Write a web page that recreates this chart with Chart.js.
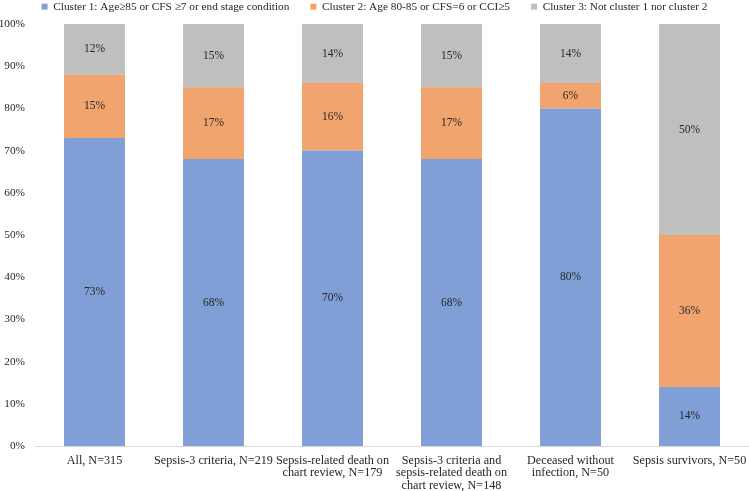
<!DOCTYPE html>
<html>
<head>
<meta charset="utf-8">
<script src="https://cdn.jsdelivr.net/npm/chart.js@4.4.0/dist/chart.umd.min.js"></script>
<style>
  html, body { margin: 0; padding: 0; background: #fff; }
  #wrap { width: 749px; height: 491px; }
</style>
</head>
<body>
<div id="wrap"><canvas id="chart"></canvas></div>
<script>
// categories and series (percent of group)
const categories = [
  'All, N=315',
  'Sepsis-3 criteria, N=219',
  ['Sepsis-related death on', 'chart review, N=179'],
  ['Sepsis-3 criteria and', 'sepsis-related death on', 'chart review, N=148'],
  ['Deceased without', 'infection, N=50'],
  'Sepsis survivors, N=50'
];
const seriesNames = [
  'Cluster 1: Age\u226585 or CFS \u22657 or end stage condition',
  'Cluster 2: Age 80-85 or CFS=6 or CCI\u22655',
  'Cluster 3: Not cluster 1 nor cluster 2'
];
const cluster1 = [73, 68, 70, 68, 80, 14];
const cluster2 = [15, 17, 16, 17, 6, 36];
const cluster3 = [12, 15, 14, 15, 14, 50];
const yTicks = [0, 10, 20, 30, 40, 50, 60, 70, 80, 90, 100];

const colors = ['#7f9fd6', '#f1a46e', '#bfbfbf'];
const FONT = '"Liberation Serif", "Times New Roman", serif';
const TEXT = '#262626';

// draw the % value in the middle of every segment
const segmentLabels = {
  id: 'segmentLabels',
  afterDatasetsDraw(chart) {
    const ctx = chart.ctx;
    ctx.save();
    ctx.font = '11.5px ' + FONT;
    ctx.fillStyle = TEXT;
    ctx.textAlign = 'center';
    ctx.textBaseline = 'middle';
    chart.data.datasets.forEach((ds, i) => {
      const meta = chart.getDatasetMeta(i);
      meta.data.forEach((bar, j) => {
        const v = ds.data[j];
        if (!v) return;
        ctx.fillText(v + '%', bar.x, (bar.y + bar.base) / 2);
      });
    });
    ctx.restore();
  }
};

// legend sits tight on top of the plot
const legendHeight = {
  id: 'legendHeight',
  beforeInit(chart) {
    const fit = chart.legend.fit;
    chart.legend.fit = function () {
      fit.bind(chart.legend)();
      this.height = 44;
    };
  }
};

new Chart(document.getElementById('chart'), {
  type: 'bar',
  data: {
    labels: categories,
    datasets: [
      { label: seriesNames[0], data: cluster1, backgroundColor: colors[0] },
      { label: seriesNames[1], data: cluster2, backgroundColor: colors[1] },
      { label: seriesNames[2], data: cluster3, backgroundColor: colors[2] }
    ]
  },
  options: {
    responsive: true,
    maintainAspectRatio: false,
    animation: false,
    layout: { padding: { left: 0, right: 0, top: -20, bottom: 0 } },
    datasets: { bar: { categoryPercentage: 1, barPercentage: 0.512 } },
    scales: {
      x: {
        stacked: true,
        grid: { display: false, drawTicks: false },
        border: { display: true, color: '#d9d9d9', width: 1 },
        ticks: {
          color: TEXT,
          font: { family: FONT, size: 12.2, lineHeight: 1.0 },
          maxRotation: 0,
          autoSkip: false,
          padding: 9
        },
        afterFit: s => { s.height = 45; s.paddingLeft = 0; s.paddingRight = 0; }
      },
      y: {
        stacked: true,
        min: 0,
        max: 100,
        grid: { display: false, drawTicks: false },
        border: { display: false },
        afterBuildTicks: s => { s.ticks = yTicks.map(v => ({ value: v })); },
        ticks: {
          color: TEXT,
          font: { family: FONT, size: 11.3 },
          padding: 10,
          callback: v => v + '%'
        },
        afterFit: s => { s.width = 35; }
      }
    },
    plugins: {
      legend: {
        position: 'top',
        labels: {
          color: TEXT,
          font: { family: FONT, size: 11.3 },
          boxWidth: 6,
          boxHeight: 6,
          padding: 21
        }
      },
      tooltip: { enabled: false }
    }
  },
  plugins: [segmentLabels, legendHeight]
});
</script>
</body>
</html>
